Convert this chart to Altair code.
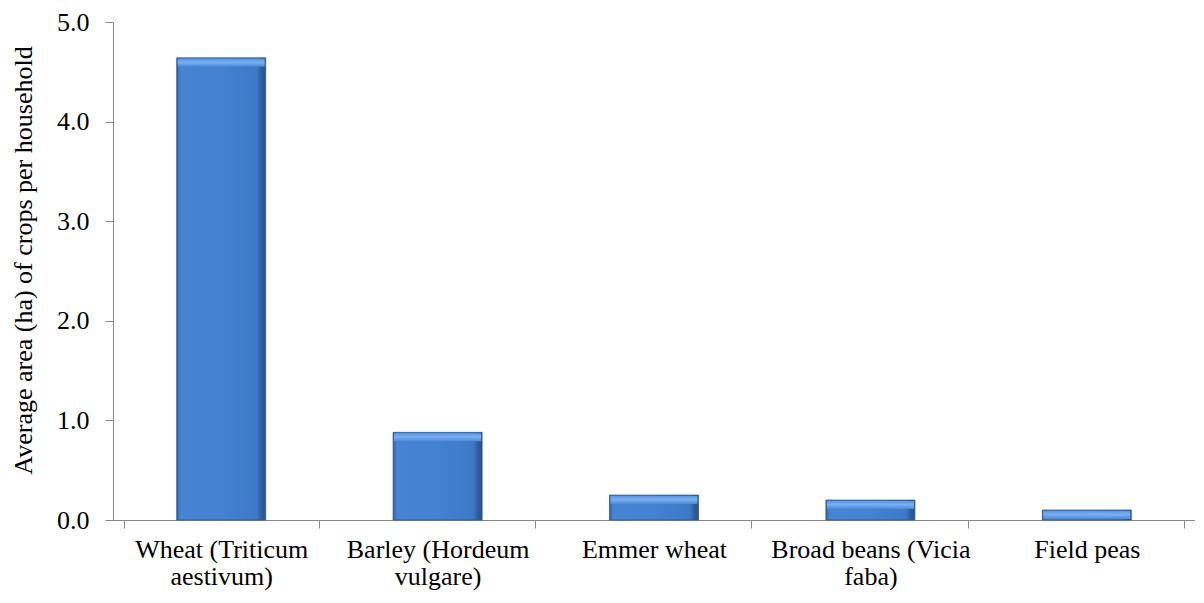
import altair as alt
import pandas as pd

crops = ["Wheat (Triticum aestivum)", "Barley (Hordeum vulgare)", "Emmer wheat",
         "Broad beans (Vicia faba)", "Field peas"]
area = [4.64, 0.88, 0.25, 0.20, 0.10]
y_ticks = [0, 1, 2, 3, 4, 5]

df = pd.DataFrame({"crop": crops, "area": area})

FONT = "Liberation Serif"
AXIS_COLOR = "#878787"

body_fill = {
    "gradient": "linear", "x1": 0, "x2": 1, "y1": 0, "y2": 0,
    "stops": [
        {"offset": 0.0, "color": "#2f5f9e"},
        {"offset": 0.04, "color": "#4784d3"},
        {"offset": 0.5, "color": "#4381d1"},
        {"offset": 0.9, "color": "#3d79c7"},
        {"offset": 0.95, "color": "#2f5f9f"},
        {"offset": 1.0, "color": "#26508a"},
    ],
}
top_fill = {
    "gradient": "linear", "x1": 0, "x2": 0, "y1": 0, "y2": 1,
    "stops": [
        {"offset": 0.0, "color": "#5a96e0"},
        {"offset": 0.45, "color": "#7ab0f0"},
        {"offset": 1.0, "color": "#4a86d4"},
    ],
}

x_enc = alt.X(
    "crop:N", sort=None, title=None,
    axis=alt.Axis(
        labelAngle=0, labelFont=FONT, labelFontSize=26, labelColor="black",
        labelLineHeight=27, labelPadding=8, tickBand="extent", tickSize=8,
        domainColor=AXIS_COLOR, tickColor=AXIS_COLOR, labelLimit=300,
        labelExpr="length(datum.label) > 12 ? [substring(datum.label, 0, lastindexof(datum.label, ' ')), substring(datum.label, lastindexof(datum.label, ' ') + 1)] : datum.label",
    ),
)
y_enc = alt.Y(
    "area:Q",
    scale=alt.Scale(domain=[0, 5], nice=False),
    axis=alt.Axis(
        values=y_ticks, format=".1f", grid=False, tickSize=8,
        labelFont=FONT, labelFontSize=26, labelColor="black", labelPadding=16,
        domainColor=AXIS_COLOR, tickColor=AXIS_COLOR,
        title="Average area (ha) of crops per household",
        titleFont=FONT, titleFontSize=26, titleFontWeight="normal", titleColor="black",
        titleX=-77, titleY=238, titleAlign="center", titleBaseline="bottom", titleAngle=-90,
    ),
)

base = alt.Chart(df).encode(x=x_enc, y=y_enc)

bars = base.mark_bar(size=89, fill=body_fill, stroke="#2c5994", strokeWidth=0.8)
tops = base.mark_tick(size=87, thickness=8, fill=top_fill, opacity=1, yOffset=5)

chart = alt.layer(bars, tops).properties(
    width=1082, height=498,
    autosize=alt.AutoSizeParams(type="none"),
    padding={"left": 105, "top": 14, "right": 0, "bottom": 75},
).configure(font=FONT).configure_view(stroke=None)

chart.save("out.html", embed_options={"renderer": "svg", "actions": False})
